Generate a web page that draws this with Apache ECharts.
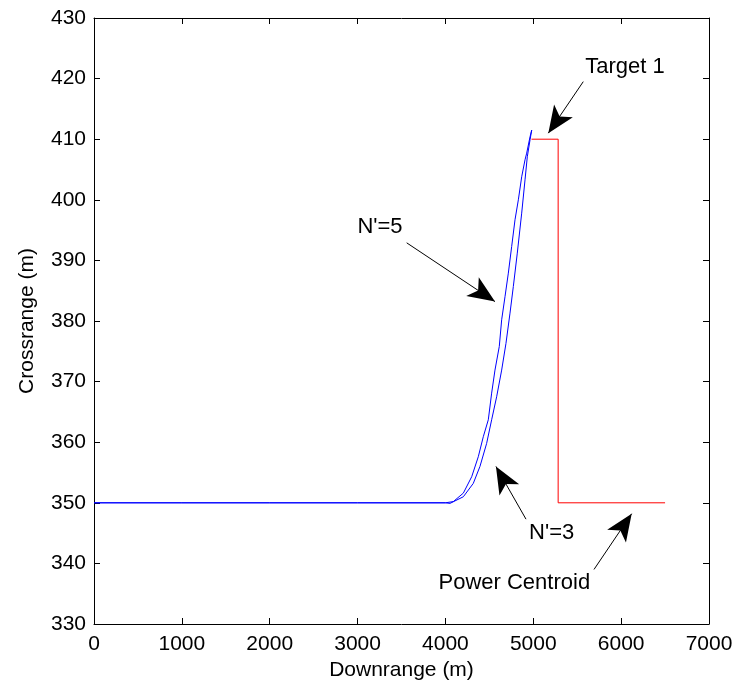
<!DOCTYPE html>
<html>
<head>
<meta charset="utf-8">
<script src="https://cdn.jsdelivr.net/npm/echarts@6/dist/echarts.min.js"></script>
<style>html,body{margin:0;padding:0;background:#fff;}#c{width:739px;height:693px;}</style>
</head>
<body>
<div id="c"></div>
<script>
// Downrange (m) / Crossrange (m)
var xTicks = [0, 1000, 2000, 3000, 4000, 5000, 6000, 7000];
var yTicks = [330, 340, 350, 360, 370, 380, 390, 400, 410, 420, 430];

// Target 1 / power centroid track (red)
var targetX = [4980, 5283, 5283, 6500];
var targetY = [410, 410, 350, 350];

// N'=3 trajectory (right blue curve)
var n3X = [0, 1000, 2000, 3000, 4000, 4052, 4204, 4317, 4393, 4469, 4526, 4583, 4640, 4689, 4735, 4773, 4818, 4868, 4906, 4932, 4963, 4982];
var n3Y = [350, 350, 350, 350, 350, 349.9, 351.0, 353.2, 356.0, 359.8, 363.7, 367.5, 371.9, 376.3, 381.3, 385.7, 391.2, 397.8, 403.3, 407.1, 409.9, 411.5];

// N'=5 trajectory (left blue curve)
var n5X = [0, 1000, 2000, 3000, 4000, 4090, 4204, 4299, 4374, 4431, 4488, 4526, 4564, 4613, 4640, 4678, 4716, 4754, 4792, 4830, 4868, 4906, 4925, 4963, 4982];
var n5Y = [350, 350, 350, 350, 350, 350.2, 351.6, 354.3, 357.6, 360.9, 363.7, 368.1, 371.9, 375.8, 380.2, 384.0, 387.9, 392.3, 396.7, 400.0, 403.8, 406.6, 407.7, 410.4, 411.5];

// annotations: text, text position, arrow start, arrow tip
var annText = ["Target 1", "N'=5", "N'=3", "Power Centroid"];
var annTextX = [6044, 3255, 5209, 4784];
var annTextY = [422.0, 395.5, 345.0, 336.7];
var arrowFromX = [5569, 3559, 4917, 5691];
var arrowFromY = [419.5, 392.9, 347.3, 339.0];
var arrowToX = [5171, 4564, 4575, 6120];
var arrowToY = [411.0, 383.2, 356.0, 348.2];

function zip(a, b) { return a.map(function (v, i) { return [v, b[i]]; }); }
function plain(v) { return String(v); }

var FONT = 'Liberation Sans, Arial, sans-serif';
var chart = echarts.init(document.getElementById('c'), null, {renderer: 'canvas'});

var axisCommon = {
  axisLine: {show: true, onZero: false, lineStyle: {color: '#000', width: 1}},
  axisTick: {show: true, inside: true, length: 6, lineStyle: {color: '#000'}},
  splitLine: {show: false}
};

chart.setOption({
  animation: false,
  backgroundColor: '#fff',
  grid: {left: 94, right: 30, top: 18, bottom: 69, containLabel: false},
  xAxis: [
    Object.assign({
      type: 'value', min: xTicks[0], max: xTicks[xTicks.length - 1], interval: 1000,
      name: 'Downrange (m)', nameLocation: 'middle', nameGap: 32,
      nameTextStyle: {fontFamily: FONT, fontSize: 21, color: '#000'},
      axisLabel: {fontFamily: FONT, fontSize: 21, color: '#000', margin: 10, formatter: plain}
    }, axisCommon),
    Object.assign({
      type: 'value', position: 'top', min: xTicks[0], max: xTicks[xTicks.length - 1], interval: 1000,
      axisLabel: {show: false}
    }, axisCommon)
  ],
  yAxis: [
    Object.assign({
      type: 'value', min: yTicks[0], max: yTicks[yTicks.length - 1], interval: 10,
      name: 'Crossrange (m)', nameLocation: 'middle', nameGap: 56,
      nameTextStyle: {fontFamily: FONT, fontSize: 21, color: '#000'},
      axisLabel: {fontFamily: FONT, fontSize: 21, color: '#000', margin: 8, formatter: plain}
    }, axisCommon),
    Object.assign({
      type: 'value', position: 'right', min: yTicks[0], max: yTicks[yTicks.length - 1], interval: 10,
      axisLabel: {show: false}
    }, axisCommon)
  ],
  series: [
    {
      name: 'Target', type: 'line', data: zip(targetX, targetY), showSymbol: false, symbol: 'none',
      lineStyle: {color: '#ff0000', width: 1}, z: 2
    },
    {
      name: "N'=3", type: 'line', data: zip(n3X, n3Y), showSymbol: false, symbol: 'none',
      lineStyle: {color: '#0000ff', width: 1}, z: 3
    },
    {
      name: "N'=5", type: 'line', data: zip(n5X, n5Y), showSymbol: false, symbol: 'none',
      lineStyle: {color: '#0000ff', width: 1}, z: 3,
      markLine: {
        silent: true,
        animation: false,
        symbol: ['none', 'arrow'],
        symbolSize: [17, 27],
        label: {show: false},
        lineStyle: {color: '#000', width: 1, type: 'solid'},
        itemStyle: {color: '#000'},
        data: annText.map(function (t, i) {
          return [{coord: [arrowFromX[i], arrowFromY[i]]}, {coord: [arrowToX[i], arrowToY[i]]}];
        })
      }
    },
    {
      name: 'labels', type: 'scatter', symbolSize: 0, clip: false,
      itemStyle: {opacity: 1, color: '#000'},
      data: annText.map(function (t, i) { return {value: [annTextX[i], annTextY[i]], name: t}; }),
      label: {
        show: true, position: 'inside', formatter: '{b}', opacity: 1,
        fontFamily: FONT, fontSize: 22, color: '#000', textBorderWidth: 0
      },
      z: 5
    }
  ]
});
</script>
</body>
</html>
